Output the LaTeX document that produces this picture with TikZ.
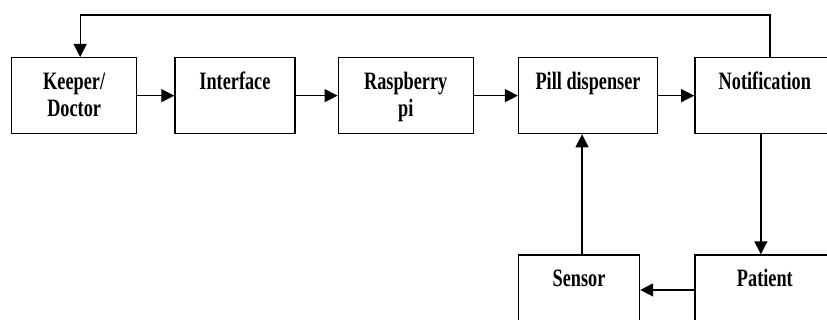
\documentclass[tikz,border=0pt]{standalone}
\usepackage{fontspec}
\setmainfont{Liberation Serif}
\usepackage{graphicx}
\usepackage{tikz}
\usetikzlibrary{
  arrows.meta,
  positioning
}
\newcommand{\boxtext}[1]{\scalebox{0.73}[1]{\begin{tabular}[t]{@{}c@{}}#1\end{tabular}}}
\tikzset{
  block/.style={draw=black,line width=1.3pt,fill=white,inner xsep=0pt,inner ysep=0pt,text height=32pt,text depth=44pt,font=\fontsize{25}{27}\selectfont\bfseries},
  flow/.style={-{Triangle[length=13pt,width=13pt]},line width=1.3pt,draw=black}
}

\begin{document}
\begin{tikzpicture}[x=1pt,y=1pt]
\clip (0,0) rectangle (827,320);
\useasboundingbox (0,0) rectangle (827,320);
\node[block, minimum width=125pt, anchor=north west] (keeper) at (11,263) {\boxtext{Keeper/\\Doctor}};
\node[block, minimum width=120pt, right=37pt of keeper] (iface) {\boxtext{Interface}};
\node[block, minimum width=135pt, right=42pt of iface] (rasp) {\boxtext{Raspberry\\pi}};
\node[block, minimum width=139pt, right=44pt of rasp] (pill) {\boxtext{Pill dispenser}};
\node[block, minimum width=140pt, right=36pt of pill] (note) {\boxtext{Notification}};
\node[block, minimum width=121pt, below=120pt of pill.south west, anchor=north west] (sensor) {\boxtext{Sensor}};
\node[block, minimum width=140pt, below=120pt of note.south west, anchor=north west] (patient) {\boxtext{Patient}};
\coordinate (fb) at (0,305);

\draw[flow] (keeper) -- (iface);
\draw[flow] (iface) -- (rasp);
\draw[flow] (rasp) -- (pill);
\draw[flow] (pill) -- (note);
\draw[flow] ([xshift=-4pt]note.south) -- ([xshift=-4pt]patient.north);
\draw[flow] ([yshift=3pt]patient.west) -- ([yshift=3pt]sensor.east);
\draw[flow] ([xshift=3pt]sensor.north) -- ([xshift=3pt]sensor.north |- pill.south);
\draw[flow] ([xshift=5pt]note.north) -- ([xshift=5pt]note.north |- fb) -| ([xshift=6pt]keeper.north);
\end{tikzpicture}
\end{document}
